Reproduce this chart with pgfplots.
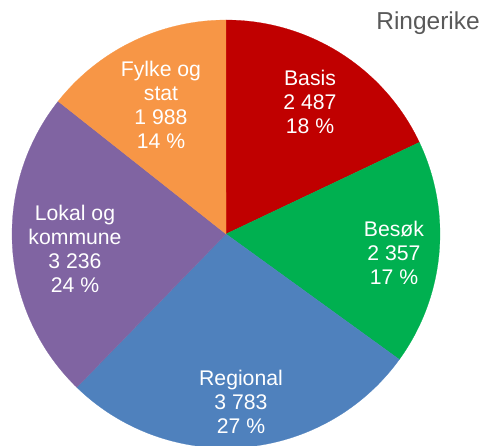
\documentclass[border=0pt]{standalone}
\usepackage{pgfplots}
\pgfplotsset{compat=1.18}
\usepackage{fontspec}
\setmainfont{Liberation Sans}
\definecolor{cBasis}{HTML}{C00000}
\definecolor{cBesok}{HTML}{00B050}
\definecolor{cRegional}{HTML}{4F81BD}
\definecolor{cLokal}{HTML}{8064A2}
\definecolor{cFylke}{HTML}{F79646}
\definecolor{cTitle}{HTML}{595959}
% values
\def\vBasis{2487}
\def\vBesok{2357}
\def\vRegional{3783}
\def\vLokal{3236}
\def\vFylke{1988}
\pgfmathsetmacro{\tot}{\vBasis+\vBesok+\vRegional+\vLokal+\vFylke}
\pgfmathsetmacro{\aA}{90}
\pgfmathsetmacro{\aB}{\aA-\vBasis/\tot*360}
\pgfmathsetmacro{\aC}{\aB-\vBesok/\tot*360}
\pgfmathsetmacro{\aD}{\aC-\vRegional/\tot*360}
\pgfmathsetmacro{\aE}{\aD-\vLokal/\tot*360}
\pgfmathsetmacro{\aF}{\aE-\vFylke/\tot*360}
\tikzset{lbl/.style={font=\fontsize{21.2bp}{24bp}\selectfont, text=white, align=center, inner sep=0pt}}
\begin{document}
\begin{tikzpicture}
\path[use as bounding box] (0,0) rectangle (482bp,446bp);
\begin{axis}[
  at={(0,0)}, anchor=south west,
  width=482bp, height=446bp, scale only axis,
  xmin=0, xmax=482, ymin=0, ymax=446,
  hide axis, clip=true,
]
\addplot[fill=cBasis, draw=cBasis, very thin, domain=\aB:\aA, samples=80] ({226+214*cos(x)},{212+214*sin(x)}) -- (226,212) -- cycle;
\addplot[fill=cBesok, draw=cBesok, very thin, domain=\aC:\aB, samples=80] ({226+214*cos(x)},{212+214*sin(x)}) -- (226,212) -- cycle;
\addplot[fill=cRegional, draw=cRegional, very thin, domain=\aD:\aC, samples=80] ({226+214*cos(x)},{212+214*sin(x)}) -- (226,212) -- cycle;
\addplot[fill=cLokal, draw=cLokal, very thin, domain=\aE:\aD, samples=80] ({226+214*cos(x)},{212+214*sin(x)}) -- (226,212) -- cycle;
\addplot[fill=cFylke, draw=cFylke, very thin, domain=\aF:\aE, samples=80] ({226+214*cos(x)},{212+214*sin(x)}) -- (226,212) -- cycle;
\node[lbl] at (axis cs:310,344) {Basis\\2 487\\18 \%};
\node[lbl] at (axis cs:394,193) {Besøk\\2 357\\17 \%};
\node[lbl] at (axis cs:241,44) {Regional\\3 783\\27 \%};
\node[lbl] at (axis cs:75,197.5) {Lokal og\\kommune\\3 236\\24 \%};
\node[lbl] at (axis cs:161,341) {Fylke og\\stat\\1 988\\14 \%};
\node[anchor=base east, text=cTitle, inner sep=0pt, font=\fontsize{24.5bp}{28bp}\selectfont] at (axis cs:480,416) {Ringerike};
\end{axis}
\end{tikzpicture}
\end{document}
